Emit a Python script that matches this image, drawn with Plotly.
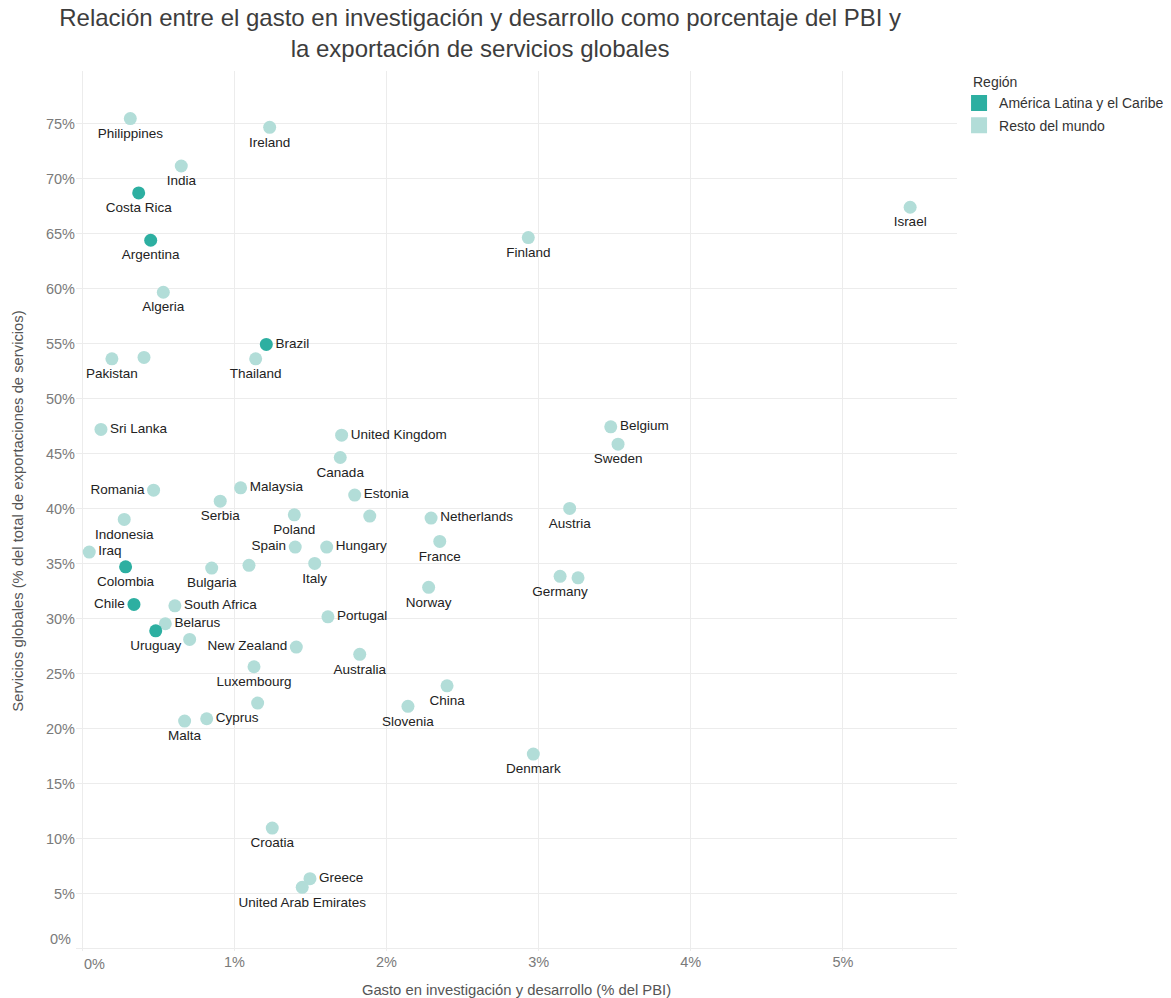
import plotly.graph_objects as go

# ---------------- data ----------------
countries = [
    "Philippines", "Ireland", "India", "Costa Rica", "Argentina", "Algeria", "Brazil", "Thailand",
    "Pakistan", "", "Sri Lanka", "United Kingdom", "Canada", "Romania", "Malaysia", "Estonia",
    "Serbia", "Indonesia", "Poland", "", "Netherlands", "France", "Iraq", "Spain", "Hungary",
    "Colombia", "Bulgaria", "", "Italy", "Norway", "Chile", "South Africa", "Portugal", "Belarus",
    "Uruguay", "", "New Zealand", "Australia", "Luxembourg", "China", "Slovenia", "", "Cyprus",
    "Malta", "Belgium", "Sweden", "Austria", "Germany", "", "Denmark", "Finland", "Israel",
    "Croatia", "Greece", "United Arab Emirates",
]
rd_gdp = [
    0.316, 1.232, 0.651, 0.371, 0.450, 0.533, 1.210, 1.140,
    0.195, 0.406, 0.123, 1.705, 1.696, 0.469, 1.041, 1.791,
    0.907, 0.276, 1.394, 1.890, 2.293, 2.350, 0.046, 1.400, 1.607,
    0.285, 0.851, 1.096, 1.528, 2.277, 0.340, 0.609, 1.615, 0.546,
    0.483, 0.706, 1.407, 1.824, 1.129, 2.398, 2.141, 1.153, 0.818,
    0.673, 3.474, 3.522, 3.204, 3.141, 3.259, 2.965, 2.932, 5.442,
    1.249, 1.497, 1.446,
]
services_share = [
    75.47, 74.68, 71.16, 68.71, 64.41, 59.68, 54.93, 53.62,
    53.62, 53.75, 47.20, 46.68, 44.65, 41.68, 41.89, 41.23,
    40.68, 39.02, 39.44, 39.32, 39.14, 37.02, 36.05, 36.50, 36.50,
    34.71, 34.59, 34.84, 35.02, 32.84, 31.29, 31.16, 30.16, 29.53,
    28.89, 28.11, 27.41, 26.75, 25.62, 23.89, 22.02, 22.32, 20.89,
    20.68, 47.44, 45.86, 40.02, 33.84, 33.71, 17.68, 64.65, 67.41,
    10.95, 6.35, 5.56,
]
region = [
    "R", "R", "R", "L", "L", "R", "L", "R",
    "R", "R", "R", "R", "R", "R", "R", "R",
    "R", "R", "R", "R", "R", "R", "R", "R", "R",
    "L", "R", "R", "R", "R", "L", "R", "R", "R",
    "L", "R", "R", "R", "R", "R", "R", "R", "R",
    "R", "R", "R", "R", "R", "R", "R", "R", "R",
    "R", "R", "R",
]
label_pos = [
    "bottom center", "bottom center", "bottom center", "bottom center", "bottom center", "bottom center", "middle right", "bottom center",
    "bottom center", "bottom center", "middle right", "middle right", "bottom center", "middle left", "middle right", "middle right",
    "bottom center", "bottom center", "bottom center", "bottom center", "middle right", "bottom center", "middle right", "middle left", "middle right",
    "bottom center", "bottom center", "bottom center", "bottom center", "bottom center", "middle left", "middle right", "middle right", "middle right",
    "bottom center", "bottom center", "middle left", "bottom center", "bottom center", "bottom center", "bottom center", "bottom center", "middle right",
    "bottom center", "middle right", "bottom center", "bottom center", "bottom center", "bottom center", "bottom center", "bottom center", "bottom center",
    "bottom center", "middle right", "bottom center",
]
region_names = {"L": "América Latina y el Caribe", "R": "Resto del mundo"}
region_colors = {"L": "#2DAFA1", "R": "#B2DDD8"}

x_ticks = [0, 1, 2, 3, 4, 5]
y_ticks = [0, 5, 10, 15, 20, 25, 30, 35, 40, 45, 50, 55, 60, 65, 70, 75]

FONT = "Arial, Liberation Sans, sans-serif"
TICK_FONT = dict(family=FONT, size=14.5, color="#7a7a7a")

fig = go.Figure()

for key in ["R", "L"]:
    idx = [i for i, r in enumerate(region) if r == key]
    fig.add_trace(go.Scatter(
        x=[rd_gdp[i] for i in idx],
        y=[services_share[i] for i in idx],
        text=[countries[i] for i in idx],
        textposition=[label_pos[i] for i in idx],
        mode="markers+text",
        marker=dict(size=13, color=region_colors[key], line=dict(width=0)),
        textfont=dict(family=FONT, size=13.5, color="#222222"),
        name=region_names[key],
        showlegend=False,
        hovertemplate="%{text}<br>%{x:.2f}%<br>%{y:.1f}%<extra></extra>",
    ))

# legend entries (square swatches)
for key in ["L", "R"]:
    fig.add_trace(go.Scatter(
        x=[None], y=[None], mode="markers",
        marker=dict(symbol="square", size=17, color=region_colors[key]),
        name=region_names[key], showlegend=True, legendgroup=key,
    ))

fig.update_layout(
    width=1171, height=998,
    margin=dict(l=76, r=214, t=71, b=47),
    paper_bgcolor="white", plot_bgcolor="white",
    font=dict(family=FONT, size=13, color="#444444"),
    title=dict(
        text="Relación entre el gasto en investigación y desarrollo como porcentaje del PBI y<br>la exportación de servicios globales",
        x=0.410, xref="container", xanchor="center",
        y=0.974, yref="container", yanchor="top",
        font=dict(family=FONT, size=24, color="#3d3d3d"),
    ),
    legend=dict(
        x=0.819, xref="container", xanchor="left",
        y=0.9814, yref="paper", yanchor="top",
        font=dict(family=FONT, size=14, color="#333333"),
        itemsizing="trace",
        tracegroupgap=1,
        bgcolor="rgba(0,0,0,0)",
    ),
    xaxis=dict(
        range=[-0.041, 5.75],
        tickvals=x_ticks,
        ticktext=["" if v == 0 else f"{v}%" for v in x_ticks],
        showgrid=True, gridcolor="#ececec", gridwidth=1,
        zeroline=False, showline=False, ticks="",
        tickfont=TICK_FONT,
        title=dict(text="Gasto en investigación y desarrollo (% del PBI)",
                   font=dict(family=FONT, size=14.8, color="#555555"), standoff=17),
        automargin=False,
    ),
    yaxis=dict(
        range=[-0.23, 79.8],
        tickvals=y_ticks,
        ticktext=["" if v == 0 else f"{v}%" for v in y_ticks],
        showgrid=True, gridcolor="#ececec", gridwidth=1,
        zeroline=False, showline=False, ticks="",
        tickfont=TICK_FONT,
        title=dict(text="Servicios globales (% del total de exportaciones de servicios)",
                   font=dict(family=FONT, size=14.8, color="#555555"), standoff=18),
        automargin=False,
    ),
)

# legend title
fig.add_annotation(text="Región", x=1.016, xref="paper", y=0.9875, yref="paper",
                   xanchor="left", yanchor="middle", showarrow=False,
                   font=dict(family=FONT, size=14, color="#333333"))

# shifted zero tick labels as in the reference
fig.add_annotation(text="0%", x=0, xref="x", y=0, yref="paper", xanchor="center", yanchor="top",
                   xshift=12.5, yshift=-3, showarrow=False, font=TICK_FONT)
fig.add_annotation(text="0%", x=0, xref="paper", y=0, yref="y", xanchor="right", yanchor="middle",
                   xshift=-3, yshift=9.5, showarrow=False, font=TICK_FONT)

fig.write_html("out.html", config={"displayModeBar": False},
               post_script="document.body.style.margin='0px';")
